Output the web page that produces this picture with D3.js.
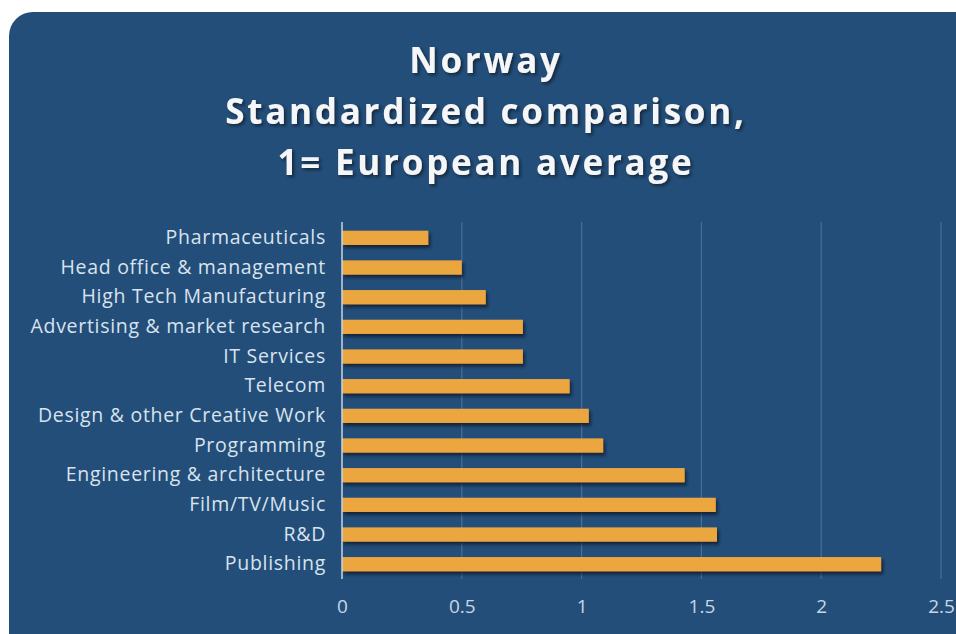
<!DOCTYPE html>
<html>
<head>
<meta charset="utf-8">
<script src="https://cdn.jsdelivr.net/npm/d3@7"></script>
<style>
  html, body { margin: 0; padding: 0; background: #ffffff; }
  svg { display: block; }
</style>
</head>
<body>
<svg id="chart" width="956" height="634"></svg>
<script>
// Sectors, top to bottom
const categories = [
  "Pharmaceuticals",
  "Head office & management",
  "High Tech Manufacturing",
  "Advertising & market research",
  "IT Services",
  "Telecom",
  "Design & other Creative Work",
  "Programming",
  "Engineering & architecture",
  "Film/TV/Music",
  "R&D",
  "Publishing"
];
// Index values, 1 = European average
const values = [0.36, 0.50, 0.60, 0.755, 0.755, 0.95, 1.03, 1.09, 1.43, 1.56, 1.565, 2.25];
const xTicks = [0, 0.5, 1, 1.5, 2, 2.5];
const titleLines = ["Norway", "Standardized comparison,", "1= European average"];

const svg = d3.select("#chart");

const defs = svg.append("defs");
const shadow = defs.append("filter").attr("id", "barShadow")
  .attr("x", "-5%").attr("y", "-40%").attr("width", "115%").attr("height", "200%");
shadow.append("feDropShadow").attr("dx", 2).attr("dy", 3).attr("stdDeviation", 1.8)
  .attr("flood-color", "#0a1a2c").attr("flood-opacity", 0.8);
const tShadow = defs.append("filter").attr("id", "textShadow")
  .attr("x", "-10%").attr("y", "-30%").attr("width", "120%").attr("height", "160%");
tShadow.append("feDropShadow").attr("dx", 2).attr("dy", 2).attr("stdDeviation", 1.5)
  .attr("flood-color", "#0b1a2a").attr("flood-opacity", 0.75);

// Panel background
svg.append("rect")
  .attr("x", 9).attr("y", 12).attr("width", 980).attr("height", 660)
  .attr("rx", 24).attr("ry", 24)
  .attr("fill", "#234e79");

// Title
const title = svg.append("text")
  .attr("text-anchor", "middle")
  .attr("font-family", "'Open Sans', Lato, sans-serif")
  .attr("font-weight", 700)
  .attr("font-size", 35)
  .attr("letter-spacing", 2.75)
  .attr("fill", "#f4f6f8")
  .attr("filter", "url(#textShadow)");
titleLines.forEach((t, i) => {
  title.append("tspan").attr("x", 486).attr("y", 73 + i * 51).text(t);
});

const x = d3.scaleLinear().domain([0, 2.5]).range([342, 941]);
const y = d3.scaleBand().domain(categories).range([223, 579]).paddingInner(0.52).paddingOuter(0.26);

// Vertical gridlines
svg.append("g")
  .selectAll("line")
  .data(xTicks.filter(d => d > 0))
  .join("line")
  .attr("x1", d => x(d)).attr("x2", d => x(d))
  .attr("y1", 222).attr("y2", 579)
  .attr("stroke", "#4a6f95").attr("stroke-width", 1.2);

// Bars
svg.append("g")
  .selectAll("rect")
  .data(values)
  .join("rect")
  .attr("x", x(0))
  .attr("y", (d, i) => y(categories[i]))
  .attr("width", d => x(d) - x(0))
  .attr("height", y.bandwidth())
  .attr("fill", "#eca63f")
  .attr("filter", "url(#barShadow)");

// Category axis
const yAxis = svg.append("g")
  .attr("transform", `translate(${x(0)},0)`)
  .call(d3.axisLeft(y).tickSize(0).tickPadding(16));
yAxis.select(".domain").attr("stroke", "#c9d6e3").attr("stroke-width", 1.5)
  .attr("d", "M0,222V579");
yAxis.selectAll("text")
  .attr("font-family", "'Open Sans', Lato, sans-serif")
  .attr("font-size", 19.5)
  .attr("letter-spacing", 0.7)
  .attr("fill", "#d8e3ee");

// Value axis
const xAxis = svg.append("g")
  .attr("transform", "translate(0,579)")
  .call(d3.axisBottom(x).tickValues(xTicks).tickFormat(d3.format("")).tickSize(0).tickPadding(21));
xAxis.select(".domain").remove();
xAxis.selectAll("text")
  .attr("font-family", "'Open Sans', Lato, sans-serif")
  .attr("font-size", 19)
  .attr("fill", "#c9d6e3");
</script>
</body>
</html>
